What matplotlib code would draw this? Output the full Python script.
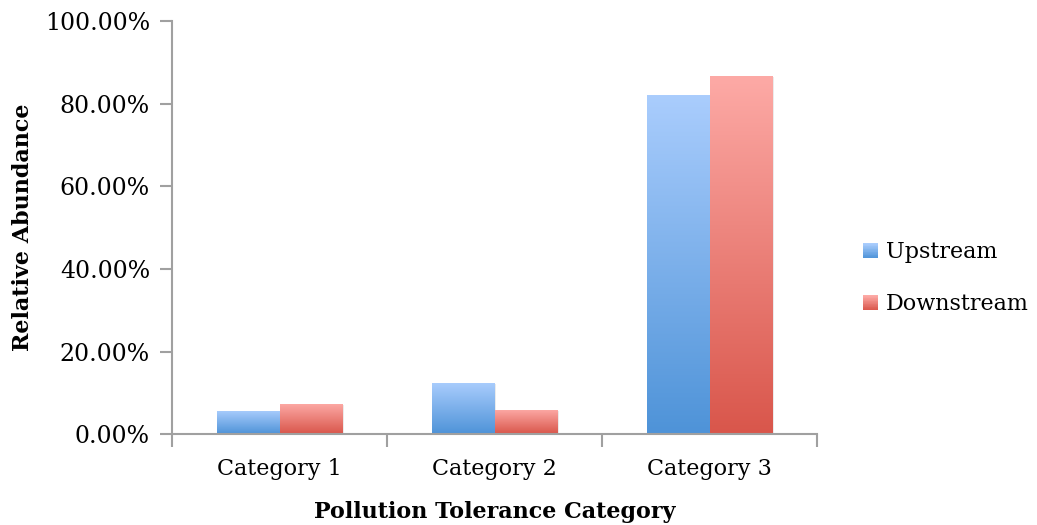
import matplotlib.pyplot as plt
import matplotlib.patches as mpatches
from matplotlib.legend_handler import HandlerBase
from matplotlib.colors import LinearSegmentedColormap
from matplotlib.ticker import FuncFormatter
import numpy as np

categories = ['Category 1', 'Category 2', 'Category 3']
upstream = [5.7, 12.4, 82.0]
downstream = [7.4, 5.9, 86.7]
series = ['Upstream', 'Downstream']

# gradient colours (top, bottom)
grad = {'Upstream': ('#aacdfd', '#4e93d8'), 'Downstream': ('#fdaaa6', '#d9564b')}

plt.rcParams['font.family'] = 'DejaVu Serif'

fig = plt.figure(figsize=(10.37, 5.25), dpi=100)
ax = fig.add_axes([0.166, 0.173, 0.622, 0.787])

x = np.arange(len(categories))
w = 0.29


def grad_bars(xs, vals, name):
    top, bot = grad[name]
    cmap = LinearSegmentedColormap.from_list(name, [bot, top])
    bars = ax.bar(xs, vals, w, color='none', edgecolor='none', zorder=3)
    img = np.linspace(0, 1, 256).reshape(-1, 1)
    for b in bars:
        x0, y0 = b.get_x(), b.get_y()
        # soft shadow
        ax.add_patch(mpatches.Rectangle((x0 + 0.008, y0), b.get_width(), b.get_height() - 0.3,
                                        color='#000000', alpha=0.08, zorder=2, lw=0))
        im = ax.imshow(img, cmap=cmap, origin='lower', aspect='auto',
                       extent=(x0, x0 + b.get_width(), y0, y0 + b.get_height()), zorder=3)
        im.set_clip_path(b)
    return bars


grad_bars(x - w / 2, upstream, 'Upstream')
grad_bars(x + w / 2, downstream, 'Downstream')

ax.set_xlim(-0.5, 2.5)
ax.set_ylim(0, 100)
ax.set_yticks(np.arange(0, 101, 20))
ax.yaxis.set_major_formatter(FuncFormatter(lambda v, p: f'{v:.2f}%'))
ax.set_xticks(x)
ax.set_xticklabels(categories)
ax.set_xticks([-0.5, 0.5, 1.5, 2.5], minor=True)
ax.tick_params(axis='x', which='major', length=0, pad=17, labelsize=16)
ax.tick_params(axis='x', which='minor', length=9, width=1.5, color='#a0a0a0', direction='out')
ax.tick_params(axis='y', length=9, width=1.5, color='#a0a0a0', labelsize=17, pad=7)

for s in ['top', 'right']:
    ax.spines[s].set_visible(False)
for s in ['left', 'bottom']:
    ax.spines[s].set_color('#a0a0a0')
    ax.spines[s].set_linewidth(1.5)
ax.spines['left'].set_zorder(5)
ax.spines['bottom'].set_zorder(5)

ax.set_xlabel('Pollution Tolerance Category', fontweight='bold', fontsize=16, labelpad=15)
ax.set_ylabel('Relative Abundance', fontweight='bold', fontsize=16)
ax.yaxis.set_label_coords(-0.214, 0.5)


class GradHandler(HandlerBase):
    def create_artists(self, legend, orig_handle, xdescent, ydescent, width, height, fontsize, trans):
        top, bot = grad[orig_handle.get_label()]
        cmap = LinearSegmentedColormap.from_list('h', [bot, top])
        side = height * 0.95
        x0 = -xdescent + width - side
        y0 = -ydescent
        n = 20
        arts = []
        for i in range(n):
            r = mpatches.Rectangle((x0, y0 + side * i / n), side, side / n + 0.3,
                                   facecolor=cmap(i / (n - 1)), edgecolor='none', transform=trans)
            arts.append(r)
        return arts


handles = [mpatches.Patch(label=s) for s in series]
fig.legend(handles=handles, labels=series, handler_map={mpatches.Patch: GradHandler()},
           loc='center left', bbox_to_anchor=(0.8115, 0.47), frameon=False, fontsize=16,
           handlelength=0.75, handletextpad=0.35, labelspacing=1.35)

fig.savefig('out.png', dpi=100)
